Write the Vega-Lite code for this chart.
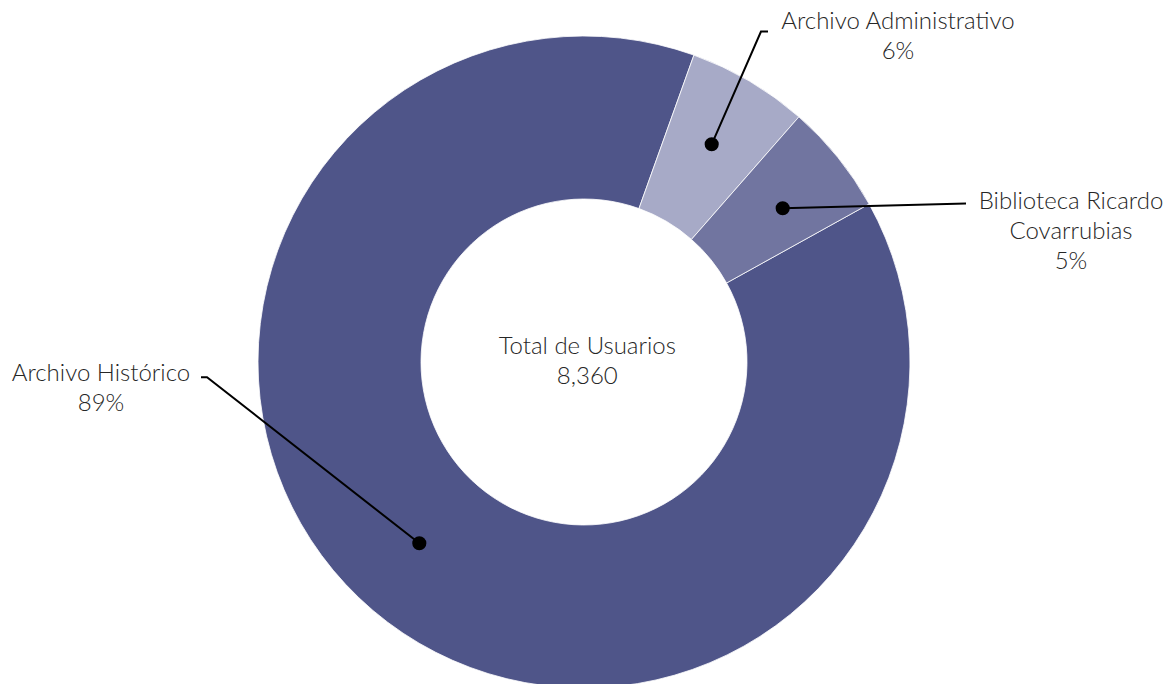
{
  "$schema": "https://vega.github.io/schema/vega-lite/v6.json",
  "width": 1168,
  "height": 724,
  "autosize": "none",
  "padding": 0,
  "background": "white",
  "config": {"view": {"stroke": null}},
  "datasets": {
    "usuarios": [
      {"area": "Archivo Histórico", "usuarios": 7401, "orden": 1},
      {"area": "Archivo Administrativo", "usuarios": 500, "orden": 2},
      {"area": "Biblioteca Ricardo Covarrubias", "usuarios": 459, "orden": 3}
    ],
    "guias": [
      {"area": "Archivo Administrativo", "paso": 1, "gx": 0.3917, "gy": 0.6678},
      {"area": "Archivo Administrativo", "paso": 2, "gx": 0.5429, "gy": 1.0138},
      {"area": "Archivo Administrativo", "paso": 3, "gx": 0.5644, "gy": 1.0138},
      {"area": "Biblioteca Ricardo Covarrubias", "paso": 1, "gx": 0.6095, "gy": 0.4715},
      {"area": "Biblioteca Ricardo Covarrubias", "paso": 2, "gx": 1.1718, "gy": 0.4862},
      {"area": "Archivo Histórico", "paso": 1, "gx": -0.5052, "gy": -0.5561},
      {"area": "Archivo Histórico", "paso": 2, "gx": -1.1564, "gy": -0.0469},
      {"area": "Archivo Histórico", "paso": 3, "gx": -1.1748, "gy": -0.0469}
    ],
    "etiquetas": [
      {"texto": "Archivo Administrativo\n6%", "lx": 0.9632, "ly": 1.0429},
      {"texto": "Biblioteca Ricardo\nCovarrubias\n5%", "lx": 1.4939, "ly": 0.4908},
      {"texto": "Archivo Histórico\n89%", "lx": -1.4816, "ly": -0.0368},
      {"texto": "Total de Usuarios\n8,360", "lx": 0.01, "ly": 0.0445}
    ]
  },
  "layer": [
    {
      "data": {"name": "usuarios"},
      "mark": {"type": "arc", "outerRadius": 326, "innerRadius": 163, "stroke": "white", "strokeWidth": 0.8},
      "encoding": {
        "theta": {"field": "usuarios", "type": "quantitative", "stack": true, "scale": {"range": [1.0647, 7.3479]}},
        "order": {"field": "orden", "type": "quantitative"},
        "color": {
          "field": "area",
          "type": "nominal",
          "legend": null,
          "scale": {
            "domain": ["Archivo Histórico", "Archivo Administrativo", "Biblioteca Ricardo Covarrubias"],
            "range": ["#4F5589", "#A7AAC7", "#7175A0"]
          }
        }
      }
    },
    {
      "data": {"name": "guias"},
      "mark": {"type": "line", "color": "black", "strokeWidth": 2},
      "encoding": {
        "x": {"field": "gx", "type": "quantitative", "scale": {"domain": [-1.7914, 1.7914]}, "axis": null},
        "y": {"field": "gy", "type": "quantitative", "scale": {"domain": [-1.1104, 1.1104]}, "axis": null},
        "detail": {"field": "area"},
        "order": {"field": "paso", "type": "quantitative"}
      }
    },
    {
      "data": {"name": "guias"},
      "transform": [{"filter": "datum.paso == 1"}],
      "mark": {"type": "point", "filled": true, "shape": "circle", "color": "black", "size": 200, "opacity": 1},
      "encoding": {
        "x": {"field": "gx", "type": "quantitative", "scale": {"domain": [-1.7914, 1.7914]}, "axis": null},
        "y": {"field": "gy", "type": "quantitative", "scale": {"domain": [-1.1104, 1.1104]}, "axis": null}
      }
    },
    {
      "data": {"name": "etiquetas"},
      "mark": {"type": "text", "align": "center", "baseline": "middle", "lineBreak": "\n", "lineHeight": 30, "font": "Lato", "fontWeight": 300, "fontSize": 24, "color": "#262626"},
      "encoding": {
        "x": {"field": "lx", "type": "quantitative", "scale": {"domain": [-1.7914, 1.7914]}, "axis": null},
        "y": {"field": "ly", "type": "quantitative", "scale": {"domain": [-1.1104, 1.1104]}, "axis": null},
        "text": {"field": "texto"}
      }
    }
  ]
}
